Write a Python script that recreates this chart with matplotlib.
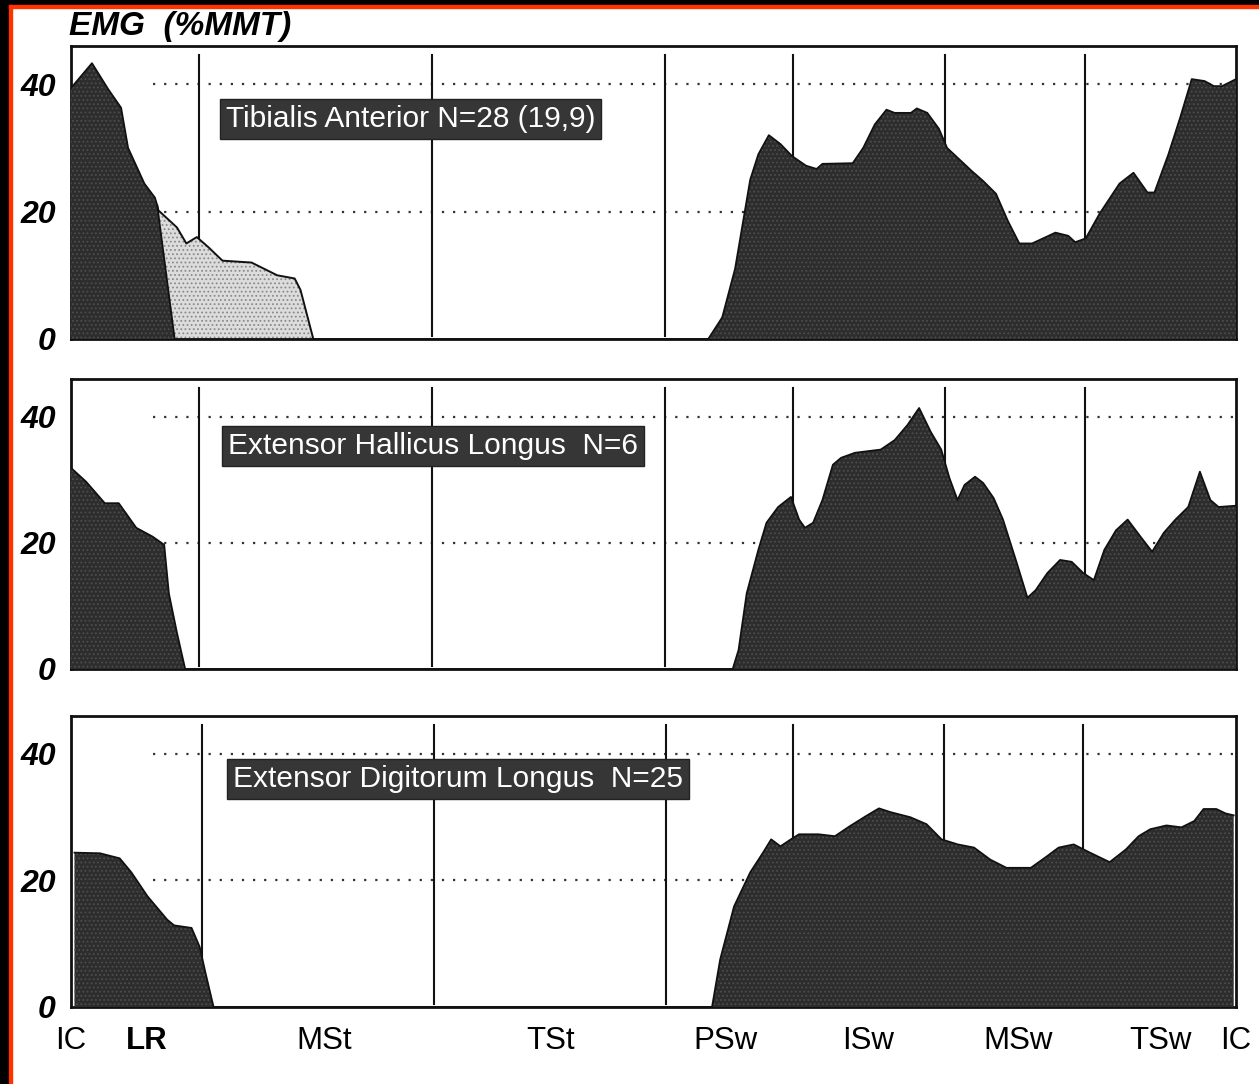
import matplotlib
matplotlib.use("Agg")
import matplotlib.pyplot as plt
from matplotlib.patches import Rectangle

plt.rcParams['font.family'] = ['Liberation Sans', 'DejaVu Sans']
plt.rcParams['hatch.linewidth'] = 0.8

# ---------------- data (percent of gait cycle, EMG %MMT) ----------------
ta_pct = [0, 1.8, 3.2, 4.3, 4.9, 6.3, 7.2, 7.4, 8.9, 54.7, 55.9, 57.0, 58.3, 59.0, 59.9,
          60.9, 61.9, 63.1, 64.0, 64.5, 67.1, 68.0, 69.0, 70.0, 70.7, 72.1, 72.6, 73.5,
          74.5, 75.2, 77.3, 78.3, 79.4, 80.4, 81.4, 82.5, 84.5, 85.6, 86.2, 87.1, 88.3,
          90.0, 91.2, 92.4, 93.0, 94.2, 95.2, 96.2, 97.3, 98.1, 98.8, 100]
ta_val = [39.4, 43.3, 39.2, 36.3, 30.0, 24.4, 22.2, 21.0, 0, 0, 3.4, 11, 25, 29, 32,
          30.6, 28.7, 27.2, 26.7, 27.5, 27.6, 30, 33.7, 36, 35.5, 35.5, 36.2, 35.5,
          33, 30, 26.4, 24.8, 22.8, 18.6, 15, 15, 16.7, 16.2, 15.2, 15.8, 19.7,
          24.4, 26.1, 23, 23, 29, 34.7, 40.8, 40.5, 39.7, 39.7, 40.8]

ta_sub_pct = [7.4, 7.5, 9.1, 9.9, 10.8, 11.8, 13.0, 15.5, 17.7, 19.2, 19.7, 20.8]
ta_sub_val = [21.0, 20.2, 17.5, 15.0, 16.0, 14.4, 12.3, 12.0, 10.0, 9.5, 7.7, 0]

ehl_pct = [0, 1.3, 2.9, 4.1, 5.6, 7.0, 8.0, 8.4, 9.1, 9.8, 56.8, 57.3, 58.0, 59.0, 59.7,
           60.7, 61.8, 62.5, 63.0, 63.7, 64.5, 65.4, 66.1, 67.3, 69.5, 70.7, 71.8, 72.8,
           73.8, 74.7, 75.4, 76.1, 76.7, 77.6, 78.3, 79.2, 80.0, 81.1, 82.1, 82.8, 83.8,
           84.9, 85.9, 86.9, 87.8, 88.7, 89.7, 90.7, 91.8, 92.8, 93.8, 94.8, 95.9, 96.9,
           97.8, 98.5, 100]
ehl_val = [31.9, 29.7, 26.3, 26.3, 22.4, 21.0, 19.7, 12.0, 5.7, 0, 0, 3, 12, 18.9, 23.2,
           25.7, 27.3, 23.7, 22.4, 23.2, 26.8, 32.4, 33.5, 34.3, 34.8, 36.3, 38.7, 41.4,
           37.6, 34.8, 30.3, 26.8, 29.2, 30.5, 29.5, 27.1, 23.7, 17.3, 11.3, 12.5, 15.2,
           17.3, 17.0, 15.2, 14.1, 18.9, 22.0, 23.7, 21.0, 18.6, 21.6, 23.7, 25.7, 31.3,
           26.8, 25.7, 25.9]

edl_pct = [0, 2.2, 3.9, 4.9, 6.3, 8.0, 8.6, 10.1, 10.8, 11.3, 12.0, 55.0, 55.7, 56.9,
           58.3, 59.4, 60.1, 60.9, 61.8, 62.5, 64.2, 65.6, 66.9, 68.3, 69.4, 70.4, 72.1,
           73.5, 74.8, 76.2, 77.6, 79.0, 80.4, 82.5, 83.8, 84.9, 86.2, 87.6, 89.3, 90.7,
           91.8, 92.8, 94.2, 95.5, 96.6, 97.4, 98.5, 99.3, 100]
edl_val = [24.4, 24.3, 23.5, 21.3, 17.5, 13.8, 12.9, 12.5, 9.5, 5.4, 0, 0, 7.5, 15.9,
           21.3, 24.4, 26.5, 25.4, 26.5, 27.3, 27.3, 27.0, 28.6, 30.2, 31.4, 30.8, 30.0,
           28.9, 26.5, 25.7, 25.2, 23.3, 22.0, 22.0, 23.7, 25.2, 25.7, 24.4, 22.9, 24.9,
           27.0, 28.1, 28.7, 28.4, 29.4, 31.3, 31.3, 30.6, 30.3]

muscle_labels = ["Tibialis Anterior N=28 (19,9)",
                 "Extensor Hallicus Longus  N=6",
                 "Extensor Digitorum Longus  N=25"]
phase_bounds = [11, 31, 51, 62, 75, 87]
phase_labels = ['IC', 'LR', 'MSt', 'TSt', 'PSw', 'ISw', 'MSw', 'TSw', 'IC']
phase_label_pos = [-0.3, 6.2, 21.5, 41.1, 56.2, 68.5, 81.4, 93.7, 100.2]
y_ticks = [0, 20, 40]
y_label = "EMG  (%MMT)"

# ---------------- figure ----------------
W, H = 1259, 1084
fig = plt.figure(figsize=(W / 100, H / 100), dpi=100)
fig.patch.set_facecolor('white')

# scan frame (black strips + red line)
fig.patches.append(Rectangle((0, 1 - 5 / H), 1, 5 / H, transform=fig.transFigure,
                             color='black', zorder=0))
fig.patches.append(Rectangle((0, 0), 9 / W, 1, transform=fig.transFigure,
                             color='black', zorder=0))
fig.patches.append(Rectangle((9 / W, 1 - 8 / H), 1, 3 / H, transform=fig.transFigure,
                             color='#ff3300', zorder=0))
fig.patches.append(Rectangle((9 / W, 0), 2.5 / W, 1 - 5 / H, transform=fig.transFigure,
                             color='#ff3300', zorder=0))

left_px, right_px = 71, 1236
# (bottom px, top px) of each panel
panels_px = [(339, 46), (669, 379), (1007, 716)]
ymax = 46

dark = '#2d2d2d'
series = [(ta_pct, ta_val), (ehl_pct, ehl_val), (edl_pct, edl_val)]
label_y = [34.6, 35.3, 36.0]
label_x = [13.3, 13.5, 13.7]

axes = []
for i, ((bpx, tpx), (px, vals)) in enumerate(zip(panels_px, series)):
    ax = fig.add_axes([left_px / W, 1 - bpx / H, (right_px - left_px) / W, (bpx - tpx) / H])
    axes.append(ax)
    ax.set_xlim(0, 100)
    ax.set_ylim(0, ymax)
    ax.set_facecolor('white')
    for s in ax.spines.values():
        s.set_linewidth(2.0)
        s.set_color('#111111')
    # dotted reference lines
    for g in (20, 40):
        ax.axhline(g, xmin=0.07, xmax=1, color='#333333', linestyle=(0, (1, 4)),
                   linewidth=1.6, zorder=1)
    # phase divisions
    for b in phase_bounds:
        ax.axvline(b, ymin=0.01, ymax=0.97, color='#111111', linewidth=1.5, zorder=2)
    if i == 0:
        ax.fill_between(ta_sub_pct, 0, ta_sub_val, facecolor='#dcdcdc', hatch='....',
                        edgecolor='#8a8a8a', linewidth=0, zorder=3)
        ax.plot(ta_sub_pct, ta_sub_val, color='#111111', linewidth=1.4, zorder=4)
    ax.fill_between(px, 0, vals, facecolor=dark, hatch='....', edgecolor='#4d4d4d',
                    linewidth=0, zorder=5)
    ax.plot(px, vals, color='#111111', linewidth=1.3, zorder=6)

    ax.text(label_x[i], label_y[i], muscle_labels[i], fontsize=21.5, color='white',
            ha='left', va='center', zorder=8,
            bbox=dict(boxstyle='square,pad=0.2', facecolor='#363636', edgecolor='#222222',
                      linewidth=1.0))

    ax.set_yticks(y_ticks)
    ax.set_yticklabels([str(t) for t in y_ticks], fontsize=23, fontweight='bold',
                       fontstyle='italic')
    ax.tick_params(axis='y', length=0, pad=11)
    if i == 2:
        ax.set_xticks(phase_label_pos)
        ax.set_xticklabels(phase_labels, fontsize=22.5)
        ax.tick_params(axis='x', length=0, pad=14)
        for lab in ax.get_xticklabels():
            if lab.get_text() == 'LR':
                lab.set_fontweight('bold')
    else:
        ax.set_xticks([])

fig.text(69 / W, 1 - 26 / H, y_label, fontsize=24, fontweight='bold', fontstyle='italic',
         ha='left', va='center')

fig.savefig('out.png', dpi=100)
